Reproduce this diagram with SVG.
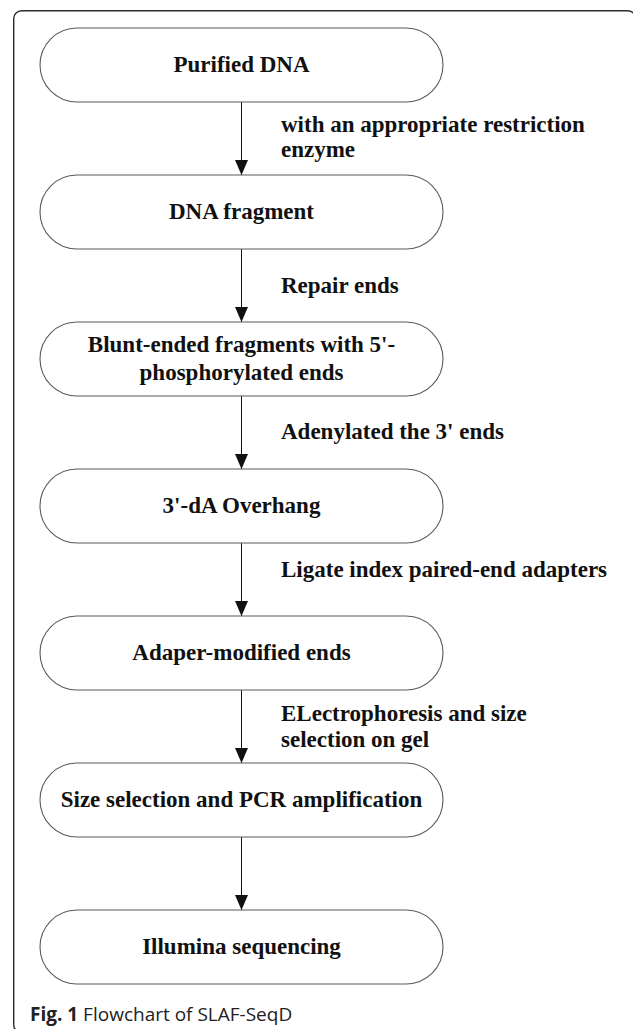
<svg xmlns="http://www.w3.org/2000/svg" width="633" height="1029" viewBox="0 0 633 1029">
  <style>
    .node rect { fill: #ffffff; stroke: #5a5a5a; stroke-width: 1.1; }
    .node text { font-family: "Liberation Serif", "Times New Roman", serif; font-weight: bold; font-size: 23px; fill: #111; text-anchor: middle; }
    .lbl { font-family: "Liberation Serif", "Times New Roman", serif; font-weight: bold; font-size: 23px; fill: #111; }
    .conn line { stroke: #111; stroke-width: 1; }
    .cap { font-family: "Open Sans", "Noto Sans", sans-serif; font-size: 19px; fill: #222; }
  </style>
  <defs>
    <marker id="ah" viewBox="0 0 15 13" refX="15" refY="6.5" markerWidth="15" markerHeight="13" markerUnits="userSpaceOnUse" orient="auto">
      <path d="M0,0 L15,6.5 L0,13 Z" fill="#111"/>
    </marker>
  </defs>
  <rect width="633" height="1029" fill="#ffffff"/>
  <rect id="frame" x="13.7" y="10.7" width="622" height="1022" rx="8" fill="none" stroke="#2a2a2a" stroke-width="1.4"/>

  <g id="connectors" class="conn">
    <line x1="241.5" y1="102" x2="241.5" y2="175" marker-end="url(#ah)"/>
    <line x1="241.5" y1="249" x2="241.5" y2="322" marker-end="url(#ah)"/>
    <line x1="241.5" y1="396" x2="241.5" y2="469" marker-end="url(#ah)"/>
    <line x1="241.5" y1="543" x2="241.5" y2="616" marker-end="url(#ah)"/>
    <line x1="241.5" y1="690" x2="241.5" y2="763" marker-end="url(#ah)"/>
    <line x1="241.5" y1="837" x2="241.5" y2="910" marker-end="url(#ah)"/>
  </g>

  <g id="labels">
    <text class="lbl" x="281" y="131.7">with an appropriate restriction</text>
    <text class="lbl" x="281" y="156.7">enzyme</text>
    <text class="lbl" x="281" y="292.7">Repair ends</text>
    <text class="lbl" x="281" y="439">Adenylated the 3' ends</text>
    <text class="lbl" x="281" y="577">Ligate index paired-end adapters</text>
    <text class="lbl" x="281" y="720.7">ELectrophoresis and size</text>
    <text class="lbl" x="281" y="746.7">selection on gel</text>
  </g>

  <g id="n1" class="node"><rect x="40" y="28" width="403" height="74" rx="37"/><text x="241.5" y="72">Purified DNA</text></g>
  <g id="n2" class="node"><rect x="40" y="175" width="403" height="74" rx="37"/><text x="241.5" y="219">DNA fragment</text></g>
  <g id="n3" class="node"><rect x="40" y="322" width="403" height="74" rx="37"/><text x="241.5" y="352">Blunt-ended fragments with 5'-</text><text x="241.5" y="380">phosphorylated ends</text></g>
  <g id="n4" class="node"><rect x="40" y="469" width="403" height="74" rx="37"/><text x="241.5" y="513">3'-dA Overhang</text></g>
  <g id="n5" class="node"><rect x="40" y="616" width="403" height="74" rx="37"/><text x="241.5" y="660">Adaper-modified ends</text></g>
  <g id="n6" class="node"><rect x="40" y="763" width="403" height="74" rx="37"/><text x="241.5" y="807">Size selection and PCR amplification</text></g>
  <g id="n7" class="node"><rect x="40" y="910" width="403" height="74" rx="37"/><text x="241.5" y="954">Illumina sequencing</text></g>

  <text id="caption" class="cap" x="30" y="1021"><tspan font-weight="bold">Fig. 1</tspan> Flowchart of SLAF-SeqD</text>
</svg>
